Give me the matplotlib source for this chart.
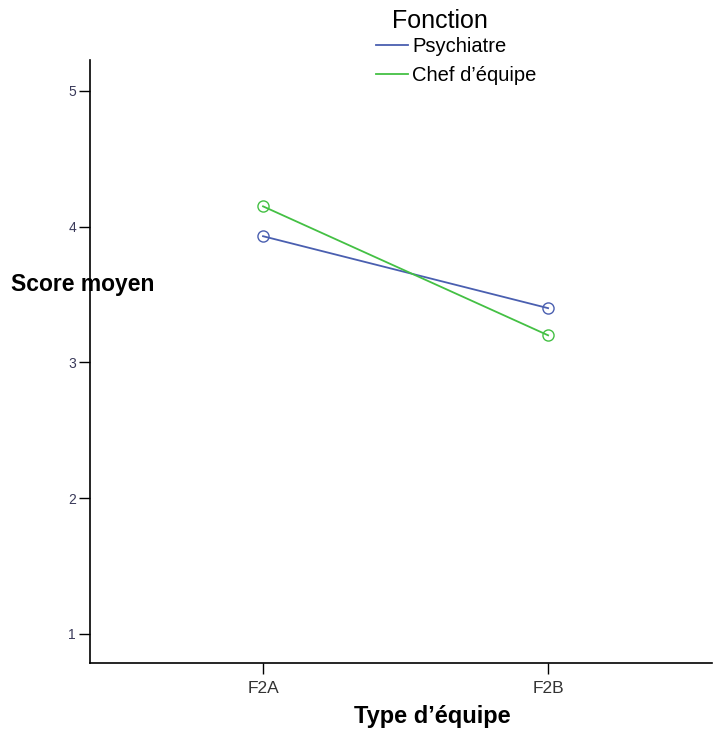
import numpy as np
import matplotlib.pyplot as plt
from matplotlib.lines import Line2D

plt.rcParams['font.family'] = ['Liberation Sans', 'DejaVu Sans']

groupes = ['F2A', 'F2B']
fonctions = ['Psychiatre', "Chef d\u2019\u00e9quipe"]
psychiatre = [3.93, 3.40]
chef = [4.15, 3.20]
couleurs = ['#4a5fb0', '#44c044']

fig = plt.figure(figsize=(7.15, 7.31), dpi=100)
ax = fig.add_axes([90/715, 68/731, 622/715, 603/731])

x = np.arange(len(groupes))
for vals, c in zip([psychiatre, chef], couleurs):
    ax.plot(x, vals, color=c, lw=1.3, marker='o', ms=8, mfc='none', mec=c, mew=1.0)

ax.set_xlim(-0.607, 1.575)
ax.set_ylim(0.786, 5.228)
ax.set_xticks(x)
ax.set_xticklabels(groupes, fontsize=12.5, color='#333333')
ax.set_yticks([1, 2, 3, 4, 5])
ax.set_yticklabels(['1', '2', '3', '4', '5'], fontsize=10, color='#3a3a5a')
ax.tick_params(axis='y', length=8, width=1, pad=2)
ax.tick_params(axis='x', length=8, width=1, pad=5)
for s in ['top', 'right']:
    ax.spines[s].set_visible(False)
for s in ['left', 'bottom']:
    ax.spines[s].set_linewidth(1.2)

fig.text(432/715, 1 - 716/731, "Type d\u2019\u00e9quipe", fontsize=17, fontweight='bold',
         ha='center', va='center')
fig.text(11/715, 1 - 285/731, 'Score moyen', fontsize=16.5, fontweight='bold',
         ha='left', va='center')

# titre de la légende placé à part
fig.text(440/715, 1 - 21/731, 'Fonction', fontsize=18, ha='center', va='center')
handles = [Line2D([0], [0], color=c, lw=1.3) for c in couleurs]
leg = fig.legend(handles, fonctions, loc='upper left',
                 bbox_to_anchor=(366/715, 1 - 27/731), frameon=False, fontsize=14.5,
                 handlelength=1.6, handletextpad=0.2, labelspacing=0.5,
                 borderpad=0.0)

fig.savefig('out.png', dpi=100)
